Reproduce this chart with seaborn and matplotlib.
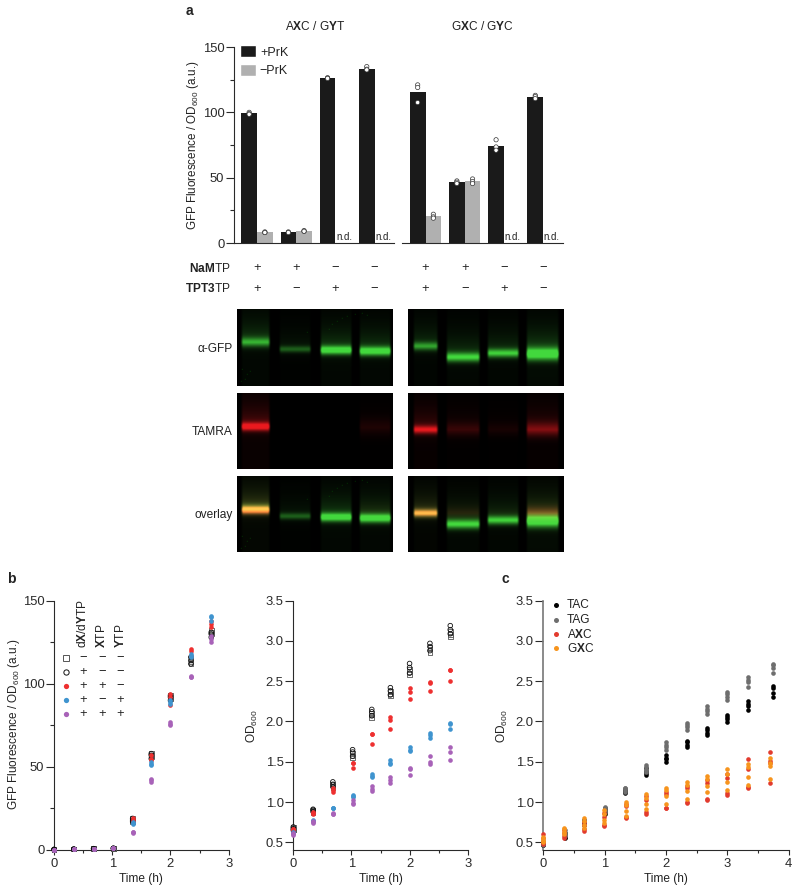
import numpy as np
import pandas as pd
import matplotlib
matplotlib.use("Agg")
import matplotlib.pyplot as plt
from matplotlib.patches import Patch
from matplotlib.lines import Line2D
from matplotlib.ticker import MultipleLocator
from matplotlib.transforms import blended_transform_factory
import seaborn as sns

# ---------- data ----------
nam_signs = ["+", "+", "−", "−"]
tpt_signs = ["+", "−", "+", "−"]
conditions = ["c1", "c2", "c3", "c4"]

a_left_plus = [[100, 99, 98.5], [8.5, 8, 8], [126.5, 126, 126], [135, 133, 132.5]]
a_left_minus = [[8.5, 8, 8], [9.5, 9, 9], [], []]
a_right_plus = [[121, 119, 107.5], [47.5, 46.5, 45.5], [79, 73.5, 71], [113, 112, 110.5]]
a_right_minus = [[22, 20, 19], [49, 47, 45.5], [], []]

t_b = [0, .34, .68, 1.02, 1.35, 1.67, 2, 2.35, 2.7]
gfp_square = [[.3, .3, .3], [.5, .5, .5], [.8, .8, .8], [1, 1, 1], [18, 17, 19], [57, 58, 56], [93, 92, 91], [113, 115, 112], [131, 130, 132]]
gfp_circle = [[.3, .3, .3], [.5, .5, .5], [.8, .8, .8], [1, 1, 1], [18, 19, 17], [58, 57, 55], [92, 90, 93], [112, 114, 116], [128, 130, 131]]
gfp_red = [[.3, .3, .3], [.5, .5, .5], [.8, .8, .8], [1, 1, 1], [17, 18, 19], [57, 55, 54], [94, 92, 87.5], [121, 120, 117], [138, 136, 134]]
gfp_blue = [[.3, .3, .3], [.5, .5, .5], [.8, .8, .8], [1, 1, 1], [16, 15.5, 17], [52, 51, 53], [90, 88, 89], [118, 116, 117], [141, 140, 138]]
gfp_purple = [[.3, .3, .3], [.5, .5, .5], [.8, .8, .8], [1, 1, 1], [11, 11, 10.5], [42, 41, 43], [77, 75, 76], [104, 104, 104.5], [129, 127, 125]]

od_square = [[.66, .68, .65], [.88, .90, .87], [1.22, 1.20, 1.18], [1.60, 1.57, 1.55], [2.08, 2.05, 2.10], [2.37, 2.32, 2.34], [2.62, 2.58, 2.65], [2.90, 2.86, 2.92], [3.05, 3.08, 3.12]]
od_circle = [[.67, .69, .65], [.90, .91, .88], [1.25, 1.22, 1.19], [1.65, 1.62, 1.57], [2.15, 2.12, 2.07], [2.42, 2.38, 2.33], [2.72, 2.67, 2.60], [2.97, 2.93, 2.88], [3.19, 3.14, 3.09]]
od_red = [[.67, .66, .65], [.86, .87, .85], [1.18, 1.15, 1.12], [1.48, 1.49, 1.42], [1.84, 1.84, 1.72], [2.05, 2.02, 1.91], [2.41, 2.36, 2.28], [2.49, 2.48, 2.38], [2.64, 2.64, 2.50]]
od_blue = [[.62, .63, .61], [.78, .76, .77], [.93, .92, .93], [1.09, 1.08, 1.06], [1.35, 1.32, 1.31], [1.52, 1.49, 1.47], [1.68, 1.65, 1.63], [1.86, 1.83, 1.79], [1.98, 1.97, 1.91]]
od_purple = [[.60, .59, .61], [.75, .74, .76], [.85, .86, .85], [1.02, .99, .97], [1.20, 1.16, 1.14], [1.31, 1.27, 1.23], [1.41, 1.42, 1.33], [1.57, 1.50, 1.47], [1.68, 1.62, 1.52]]

t_xc = [0, .33, .66, .99, 1.34, 1.67, 2, 2.34, 2.67, 3, 3.33, 3.7]
t_ta = [0, .36, .67, 1, 1.33, 1.67, 2, 2.34, 2.67, 3, 3.33, 3.75]
c_tac = [[.46, .48, .50, .47], [.57, .60, .62, .55], [.72, .75, .78, .74], [.85, .88, .90, .92], [1.11, 1.14, 1.16, 1.13], [1.33, 1.36, 1.39, 1.42], [1.50, 1.53, 1.55, 1.58], [1.68, 1.71, 1.74, 1.76], [1.83, 1.86, 1.89, 1.92], [1.99, 2.03, 2.06, 2.08], [2.14, 2.19, 2.22, 2.25], [2.30, 2.35, 2.42, 2.44]]
c_tag = [[.48, .50, .47, .52], [.60, .62, .58, .65], [.76, .78, .74, .72], [.90, .92, .94, .88], [1.13, 1.15, 1.17, 1.18], [1.40, 1.43, 1.46, 1.37], [1.65, 1.68, 1.71, 1.74], [1.90, 1.93, 1.96, 1.98], [2.09, 2.13, 2.16, 2.19], [2.27, 2.31, 2.34, 2.37], [2.43, 2.49, 2.52, 2.55], [2.60, 2.67, 2.70, 2.72]]
c_axc = [[.60, .55, .50, .48], [.55, .58, .62, .65], [.64, .66, .72, .75], [.70, .72, .82, .86], [.80, .82, .95, .98], [.85, .87, 1.03, 1.08], [.92, .93, 1.10, 1.13], [.99, 1.00, 1.18, 1.20], [1.03, 1.04, 1.24, 1.27], [1.09, 1.11, 1.30, 1.35], [1.17, 1.19, 1.41, 1.54], [1.23, 1.48, 1.51, 1.62]]
c_gxc = [[.57, .54, .50, .52], [.60, .63, .66, .68], [.68, .72, .77, .80], [.74, .78, .85, .90], [.83, .89, .96, 1.00], [.91, .97, 1.05, 1.10], [.98, 1.08, 1.15, 1.17], [1.04, 1.14, 1.21, 1.25], [1.12, 1.20, 1.28, 1.32], [1.15, 1.25, 1.35, 1.41], [1.21, 1.31, 1.43, 1.47], [1.29, 1.45, 1.49, 1.55]]

# gel bands: x0, x1, y centre (px within the crop frame), amplitude, smear, thickness
gel_left_green = [(3, 34, 33, .50, .34, 4.6), (41, 75, 40, .32, .12, 3.2), (82, 116, 41, .90, .36, 4.2), (121, 155, 42, .90, .34, 4.4)]
gel_right_green = [(4, 31, 37, .50, .26, 4.0), (37, 73, 48, .72, .32, 4.6), (78, 112, 44, .70, .28, 4.2), (117, 152, 45, .90, .50, 6.0)]
gel_left_red = [(3, 34, 34, .85, .42, 4.0), (121, 155, 35, .07, .06, 9.0)]
gel_right_red = [(4, 31, 37, .70, .32, 4.0), (37, 73, 37, .12, .12, 7.0), (78, 112, 37, .05, .05, 7.0), (117, 152, 37, .30, .26, 7.0)]
speckle_left = [(100, 12), (105, 9), (110, 7), (118, 5), (125, 4), (70, 23), (5, 60), (10, 65), (13, 62), (8, 70), (4, 72), (95, 15), (130, 6), (92, 20)]

# ---------- style ----------
W, H = 800, 893
sns.set_theme(style="ticks", rc={
    "axes.edgecolor": "#2a2a2a", "axes.linewidth": .8,
    "xtick.color": "#2a2a2a", "ytick.color": "#2a2a2a",
    "text.color": "#222222", "axes.labelcolor": "#222222",
    "axes.facecolor": "none", "figure.facecolor": "white",
})
plt.rcParams["font.family"] = ["Liberation Sans", "DejaVu Sans"]
plt.rcParams["mathtext.fontset"] = "custom"
plt.rcParams["mathtext.rm"] = "Liberation Sans"
plt.rcParams["mathtext.bf"] = "Liberation Sans:bold"
plt.rcParams["mathtext.default"] = "regular"

FS = 8.6
TICK_FS = 9.4
fig = plt.figure(figsize=(W / 100, H / 100), dpi=100)


def px_axes(x0, y0, x1, y1):
    """Axes from pixel box: left, top, right, bottom."""
    return fig.add_axes([x0 / W, 1 - y1 / H, (x1 - x0) / W, (y1 - y0) / H])


def ftext(x, y, s, **kw):
    kw.setdefault("fontsize", FS)
    kw.setdefault("va", "center")
    return fig.text(x / W, 1 - y / H, s, **kw)


def style_xy(ax, xmax, ytop, ylow, ymaj, yminor=None):
    sns.despine(ax=ax)
    ax.set_xlim(0, xmax)
    ax.set_ylim(ylow, ytop)
    ax.xaxis.set_major_locator(MultipleLocator(1))
    ax.xaxis.set_minor_locator(MultipleLocator(.5))
    ax.yaxis.set_major_locator(MultipleLocator(ymaj))
    if yminor:
        ax.yaxis.set_minor_locator(MultipleLocator(yminor))
    ax.tick_params(axis="y", which="major", length=5.5, width=.8, labelsize=TICK_FS, pad=1.5)
    ax.tick_params(axis="y", which="minor", length=3, width=.8)
    ax.tick_params(axis="x", which="major", length=3.5, width=.8, labelsize=TICK_FS, pad=2.5)
    ax.tick_params(axis="x", which="minor", length=2.5, width=.8)
    ax.set_xlabel("Time (h)", fontsize=FS, labelpad=2)


def bars(ax, plus, minus, left_x):
    rows = []
    for c, p, m in zip(conditions, plus, minus):
        rows += [(c, "+PrK", v) for v in p] + [(c, "−PrK", v) for v in m]
    df = pd.DataFrame(rows, columns=["cond", "prk", "val"])
    kw = dict(data=df, x="cond", y="val", hue="prk", order=conditions, hue_order=["+PrK", "−PrK"], ax=ax, legend=False)
    sns.barplot(**kw, palette=["#1a1a1a", "#b0b0b0"], errorbar=None, width=.8, saturation=1, linewidth=0)
    sns.stripplot(**kw, palette=["white", "white"], dodge=True, jitter=False, size=3.1, edgecolor="#333333", linewidth=.5)
    ax.set_ylim(0, 150)
    ax.set_xlim(left_x, left_x + (ax.get_position().width * W) / 39.2)
    ax.set_xlabel("")
    ax.set_ylabel("")
    ax.set_xticks([])
    for i, p in enumerate(plus):
        if not minus[i]:
            ax.text(i + .22, 1, "n.d.", fontsize=7.0, ha="center", va="bottom")
    tr = blended_transform_factory(ax.transData, fig.transFigure)
    for i in range(4):
        ax.text(i, 1 - 268 / H, nam_signs[i], transform=tr, ha="center", va="center", fontsize=TICK_FS)
        ax.text(i, 1 - 289 / H, tpt_signs[i], transform=tr, ha="center", va="center", fontsize=TICK_FS)


# ---------- panel a ----------
ax1 = px_axes(234, 47, 394, 243)
bars(ax1, a_left_plus, a_left_minus, -.587)
sns.despine(ax=ax1)
ax1.yaxis.set_major_locator(MultipleLocator(50))
ax1.yaxis.set_minor_locator(MultipleLocator(25))
ax1.tick_params(axis="y", which="major", length=5.5, width=.8, labelsize=TICK_FS, pad=1.5)
ax1.tick_params(axis="y", which="minor", length=3, width=.8)
ax1.legend(handles=[Patch(facecolor="#1a1a1a", label="+PrK"), Patch(facecolor="#b0b0b0", label="−PrK")],
           loc="upper left", bbox_to_anchor=(.0, 1.04), frameon=False, fontsize=TICK_FS - .4,
           handlelength=1.22, handleheight=1.1, handletextpad=.35, labelspacing=.42, borderpad=.2, borderaxespad=.3)
ftext(193, 145, "GFP Fluorescence / OD$_{600}$ (a.u.)", rotation=90, ha="center", fontsize=8.4)

ax2 = px_axes(402, 47, 563, 243)
bars(ax2, a_right_plus, a_right_minus, -.6)
sns.despine(ax=ax2, left=True)
ax2.set_yticks([])

ftext(315, 26, r"A$\mathbf{X}$C / G$\mathbf{Y}$T", ha="center")
ftext(482.7, 26, r"G$\mathbf{X}$C / G$\mathbf{Y}$C", ha="center")
ftext(231, 268, r"$\mathbf{NaM}$TP", ha="right")
ftext(231, 289, r"$\mathbf{TPT3}$TP", ha="right")
ftext(186, 11, "a", fontsize=10, fontweight="bold")
ftext(7, 579, "b", fontsize=10, fontweight="bold")
ftext(501, 579, "c", fontsize=10, fontweight="bold")


# ---------- gels ----------
def band_image(bands, w, h):
    yy, xx = np.mgrid[0:h * 3, 0:w * 3] / 3.0
    img = np.zeros_like(xx)
    for x0, x1, yc, amp, sm, th in bands:
        hor = np.clip((xx - x0) / 3.5, 0, 1) * np.clip((x1 - xx) / 3.5, 0, 1)
        hor = hor * hor * (3 - 2 * hor)
        v = amp * np.exp(-((yy - yc) / th) ** 2)
        v = v + sm * np.where(yy < yc, np.exp(-(yc - yy) / 16.0), np.exp(-(yy - yc) / 3.5))
        v = v + .10 * sm * np.where(yy > yc, 1, 0)
        img += hor * v
    return np.clip(img, 0, 1)


def gel(x0, y0, x1, y1, green=None, red=None, speck=None):
    ax = px_axes(x0, y0, x1, y1)
    w, h = x1 - x0, y1 - y0
    rgb = np.zeros((h * 3, w * 3, 3))
    if green is not None:
        g = band_image(green, w, h)
        rgb[..., 1] = g * .85
        rgb[..., 0] = g * .26
        rgb[..., 2] = g * .24
    if speck:
        for sx, sy in speck:
            rgb[sy * 3:sy * 3 + 2, sx * 3:sx * 3 + 2, 1] = .38
    if red is not None:
        r = band_image(red, w, h)
        if green is not None:
            r = r ** 1.5
        rgb[..., 0] = np.clip(rgb[..., 0] + r * .92, 0, 1)
        rgb[..., 2] = np.clip(rgb[..., 2] + r * .12, 0, 1)
        rgb[..., 1] = np.clip(rgb[..., 1] + r * .10, 0, 1)
    ax.imshow(rgb, aspect="auto", interpolation="bilinear")
    ax.set_axis_off()


rows = [(309, 386), (393, 469), (476, 552)]
gel(237, rows[0][0], 393, rows[0][1], green=gel_left_green, speck=speckle_left)
gel(408, rows[0][0], 564, rows[0][1], green=gel_right_green)
gel(237, rows[1][0], 393, rows[1][1], red=gel_left_red)
gel(408, rows[1][0], 564, rows[1][1], red=gel_right_red)
gel(237, rows[2][0], 393, rows[2][1], green=gel_left_green, red=gel_left_red, speck=speckle_left)
gel(408, rows[2][0], 564, rows[2][1], green=gel_right_green, red=gel_right_red)
ftext(232.5, 349, "α-GFP", ha="right")
ftext(232.5, 432, "TAMRA", ha="right")
ftext(232.5, 515, "overlay", ha="right")


# ---------- scatter helper ----------
def scatter(ax, times, reps, color, marker="o", hollow=False, s=11):
    df = pd.DataFrame([(t, v) for t, r in zip(times, reps) for v in r], columns=["t", "v"])
    if hollow:
        sns.scatterplot(data=df, x="t", y="v", ax=ax, marker=marker, s=s, facecolor="none", edgecolor=color, linewidth=.6, clip_on=False, zorder=3)
    else:
        sns.scatterplot(data=df, x="t", y="v", ax=ax, marker=marker, s=s, color=color, linewidth=0, clip_on=False, zorder=3)


B_COL = ["#555555", "#111111", "#ee3030", "#3f94cf", "#a862b8"]
B_MARK = ["s", "o", "o", "o", "o"]
B_HOL = [True, True, False, False, False]

# ---------- panel b, GFP ----------
ax3 = px_axes(54, 600.7, 228.7, 850)
for reps, col, mk, hol in zip([gfp_square, gfp_circle, gfp_red, gfp_blue, gfp_purple], B_COL, B_MARK, B_HOL):
    scatter(ax3, t_b, reps, col, mk, hol)
style_xy(ax3, 3, 150, 0, 50, 25)
ax3.set_ylabel("")
ftext(14, 724, "GFP Fluorescence / OD$_{600}$ (a.u.)", rotation=90, ha="center", fontsize=8.5)

# header + sign table in panel b
col_x = [83, 101.7, 120]
headers = [r"d$\mathbf{X}$/d$\mathbf{Y}$TP", r"$\mathbf{X}$TP", r"$\mathbf{Y}$TP"]
sign_rows = [["−", "−", "−"], ["+", "−", "−"], ["+", "+", "−"], ["+", "−", "+"], ["+", "+", "+"]]
row_y = [657.7, 671.7, 685.7, 699.7, 713.7]
for x, hd in zip(col_x, headers):
    ftext(x, 648, hd, rotation=90, ha="center", va="bottom")
for y, signs, col, mk, hol in zip(row_y, sign_rows, B_COL, B_MARK, B_HOL):
    fig.add_artist(Line2D([66 / W], [1 - y / H], transform=fig.transFigure, marker=mk, ms=3.8, linestyle="",
                          mfc="none" if hol else col, mec=col, mew=.7 if hol else 0))
    for x, sg in zip(col_x, signs):
        ftext(x, y, sg, ha="center", fontsize=TICK_FS)

# ---------- panel b, OD ----------
ax4 = px_axes(293.3, 600.7, 467.7, 850)
for reps, col, mk, hol in zip([od_square, od_circle, od_red, od_blue, od_purple], B_COL, B_MARK, B_HOL):
    scatter(ax4, t_b, reps, col, mk, hol)
style_xy(ax4, 3, 3.5, .404, .5)
ax4.set_ylabel("")
ftext(252.5, 726, "OD$_{600}$", rotation=90, ha="center")

# ---------- panel c ----------
ax5 = px_axes(543.3, 600.7, 788.7, 850)
C_COL = ["#000000", "#6e6e6e", "#e23b2e", "#f7941d"]
C_NAMES = ["TAC", "TAG", r"A$\mathbf{X}$C", r"G$\mathbf{X}$C"]
for times, reps, col in zip([t_ta, t_ta, t_xc, t_xc], [c_tac, c_tag, c_axc, c_gxc], C_COL):
    scatter(ax5, times, reps, col)
style_xy(ax5, 4, 3.5, .404, .5)
ax5.spines["left"].set_color("#777777")
ax5.spines["left"].set_linewidth(1.2)
ax5.set_ylabel("")
ftext(502, 726, "OD$_{600}$", rotation=90, ha="center")
for y, col, name in zip([605, 619.6, 634, 648], C_COL, C_NAMES):
    fig.add_artist(Line2D([556 / W], [1 - y / H], transform=fig.transFigure, marker="o", ms=3.6, linestyle="", color=col, mew=0))
    ftext(567, y, name, ha="left")

fig.savefig("out.png", dpi=100)
